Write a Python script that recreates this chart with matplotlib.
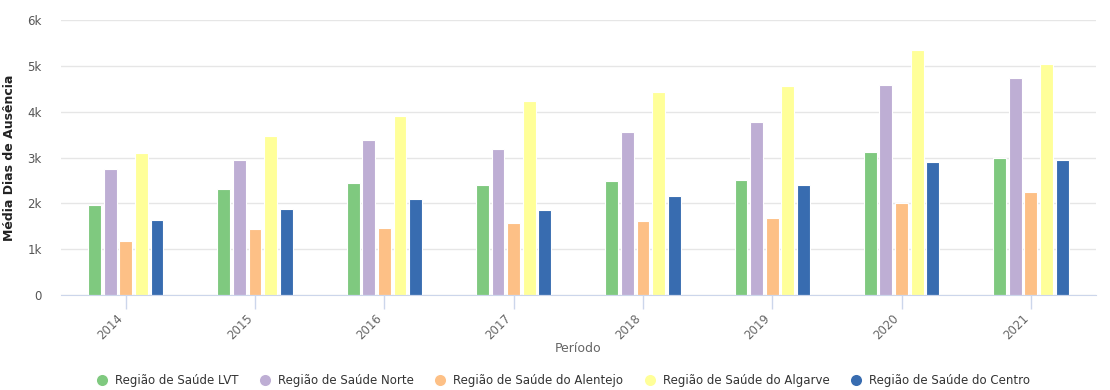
import numpy as np
import matplotlib.pyplot as plt
from matplotlib.lines import Line2D
from matplotlib.ticker import FuncFormatter

anos = ['2014', '2015', '2016', '2017', '2018', '2019', '2020', '2021']
regioes = ['Região de Saúde LVT', 'Região de Saúde Norte', 'Região de Saúde do Alentejo',
           'Região de Saúde do Algarve', 'Região de Saúde do Centro']
cores = ['#7fc97f', '#beaed4', '#fdc086', '#ffff99', '#386cb0']

lvt = [1970, 2310, 2450, 2390, 2480, 2500, 3110, 3000]
norte = [2740, 2940, 3390, 3190, 3550, 3770, 4580, 4740]
alentejo = [1170, 1450, 1470, 1580, 1610, 1690, 2000, 2240]
algarve = [3090, 3470, 3910, 4240, 4420, 4550, 5350, 5040]
centro = [1640, 1870, 2100, 1860, 2170, 2390, 2900, 2950]
series = [lvt, norte, alentejo, algarve, centro]

fig = plt.figure(figsize=(11.1, 3.9), dpi=100)
ax = fig.add_axes([0.055, 0.2436, 0.932, 0.705])

x = np.arange(len(anos))
passo = 0.121
for i, (vals, cor) in enumerate(zip(series, cores)):
    ax.bar(x + (i - 2) * passo, vals, width=0.1, color=cor, edgecolor='white',
           linewidth=0.8, zorder=3)

ax.set_xlim(-0.5, len(anos) - 0.5)
ax.set_ylim(0, 6000)
ax.set_yticks(range(0, 6001, 1000))
ax.yaxis.set_major_formatter(FuncFormatter(lambda v, p: '0' if v == 0 else f'{int(v/1000)}k'))
ax.grid(axis='y', color='#e6e6e6', linewidth=1, zorder=0)

for lado in ['top', 'right', 'left']:
    ax.spines[lado].set_visible(False)
ax.spines['bottom'].set_color('#ccd6eb')
ax.spines['bottom'].set_zorder(4)

ax.set_xticks(x)
ax.set_xticklabels(anos, rotation=45, ha='right', va='top', rotation_mode='default')
ax.tick_params(axis='x', colors='#666666', length=10, width=1, labelsize=8.5, pad=2)
ax.tick_params(axis='x', color='#ccd6eb')
ax.tick_params(axis='y', length=0, labelcolor='#555555', labelsize=8.5, pad=14)

ax.set_xlabel('Período', color='#666666', fontsize=9)
ax.xaxis.set_label_coords(0.5, -0.17)
ax.set_ylabel('Média Dias de Ausência', color='#222222', fontsize=9, fontweight='semibold')
ax.yaxis.set_label_coords(-0.044, 0.5)

handles = [Line2D([0], [0], marker='o', color='w', markerfacecolor=c, markersize=9,
                  linewidth=0) for c in cores]
leg = fig.legend(handles, regioes, loc='center', bbox_to_anchor=(0.507, 0.025), ncol=5,
                 frameon=False, fontsize=8.5, handletextpad=0.6, columnspacing=1.75,
                 handlelength=1.0)
for t in leg.get_texts():
    t.set_color('#333333')

fig.savefig('out.png', dpi=100)
